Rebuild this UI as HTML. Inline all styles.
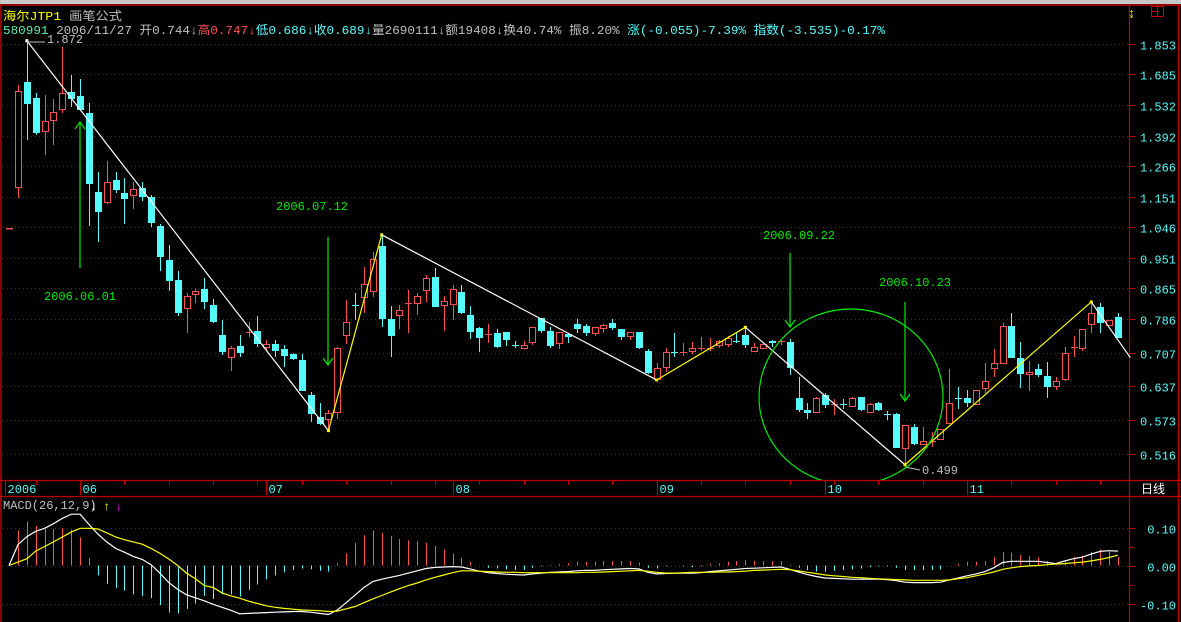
<!DOCTYPE html>
<html><head><meta charset="utf-8"><style>
html,body{margin:0;padding:0;background:#000;width:1181px;height:622px;overflow:hidden}
svg{display:block}
text{font-family:"Liberation Mono","Noto Sans CJK SC",monospace;font-size:12px}
</style></head><body>
<svg id="chart" width="1181" height="622" viewBox="0 0 1181 622" xmlns="http://www.w3.org/2000/svg">
<rect x="0" y="0" width="1181" height="622" fill="#000"/>
<rect x="0" y="0" width="1181" height="4" fill="#c8c8c8"/>
<line x1="0" y1="5" x2="1181" y2="5" stroke="#c00000" stroke-width="1.5"/>
<line x1="1" y1="5" x2="1" y2="622" stroke="#c00000" stroke-width="1.5"/>
<line x1="1129.5" y1="5" x2="1129.5" y2="622" stroke="#c00000" stroke-width="1.2"/>
<line x1="1178.5" y1="5" x2="1178.5" y2="622" stroke="#c00000" stroke-width="1.5"/>
<line x1="0" y1="480.5" x2="1181" y2="480.5" stroke="#c00000" stroke-width="1.2"/>
<line x1="0" y1="496.5" x2="1181" y2="496.5" stroke="#c00000" stroke-width="1.2"/>
<g><text x="1128" y="17" fill="#ffff00" font-size="13" font-weight="bold">↨</text></g>
<g><rect x="1151.5" y="6.5" width="12" height="10" fill="none" stroke="#d00000"/><line x1="1157.5" y1="6.5" x2="1157.5" y2="16.5" stroke="#d00000"/><line x1="1151.5" y1="11.5" x2="1157.5" y2="11.5" stroke="#d00000"/></g>
<text x="3" y="20" font-size="13" textLength="119" lengthAdjust="spacingAndGlyphs"><tspan fill="#ffff00">海尔JTP1</tspan><tspan fill="#c0c0c0"> 画笔公式</tspan></text>
<text x="3" y="34" textLength="882" lengthAdjust="spacingAndGlyphs"><tspan fill="#5cf0b0">580991</tspan><tspan fill="#c0c0c0"> 2006/11/27 开0.744↓</tspan><tspan fill="#ff5050">高0.747↓</tspan><tspan fill="#54fcfc">低0.686↓收0.689↓</tspan><tspan fill="#c0c0c0">量2690111↓额19408↓换40.74% 振8.20% </tspan><tspan fill="#54fcfc">涨(-0.055)-7.39% 指数(-3.535)-0.17%</tspan></text>
<g id="grid"></g><g id="candles"></g><g id="zig"></g><g id="macd"></g><g id="axes"></g>
<rect x="6" y="228" width="7" height="1.5" fill="#ff5050"/>
<text x="47" y="43" fill="#c0c0c0">1.872</text>
<line x1="27" y1="42" x2="45" y2="42" stroke="#c0c0c0"/>
<text x="922" y="474" fill="#c0c0c0">0.499</text>
<line x1="905" y1="467" x2="920" y2="470" stroke="#c0c0c0"/>
<g fill="none" stroke="#00ee00" stroke-width="1.2">
<line x1="80" y1="122" x2="80" y2="268"/><polyline points="75,129 80,122 85,129"/>
<line x1="328" y1="237" x2="328" y2="365"/><polyline points="323,358 328,365 333,358"/>
<line x1="790" y1="253" x2="790" y2="327"/><polyline points="785,320 790,327 795,320"/>
<line x1="905" y1="302" x2="905" y2="401"/><polyline points="900,394 905,401 910,394"/>
<clipPath id="pc"><rect x="0" y="6" width="1129" height="474"/></clipPath>
<ellipse cx="851" cy="397" rx="92" ry="88" clip-path="url(#pc)"/>
</g>
<text x="44" y="300" fill="#00ee00">2006.06.01</text>
<text x="276" y="210" fill="#00ee00">2006.07.12</text>
<text x="763" y="239" fill="#00ee00">2006.09.22</text>
<text x="879" y="286" fill="#00ee00">2006.10.23</text>
<text x="3" y="509" fill="#c0c0c0" font-size="11">MACD(26,12,9)</text>
<text x="90" y="510" fill="#ffffff" font-size="11">↓</text>
<text x="103" y="510" fill="#ffff00" font-size="11">↑</text>
<text x="115" y="510" fill="#ff00ff" font-size="11">↓</text>
<text x="1141" y="493" fill="#ffffff">日线</text>
</svg>
<script>
const opens=[1.187,1.646,1.566,1.413,1.462,1.513,1.596,1.576,1.494,1.168,1.132,1.213,1.164,1.157,1.183,1.150,1.050,0.945,0.888,0.814,0.850,0.863,0.821,0.748,0.698,0.722,0.756,0.757,0.720,0.727,0.716,0.705,0.692,0.620,0.580,0.576,0.589,0.748,0.821,0.842,0.858,0.987,0.786,0.796,0.826,0.826,0.861,0.897,0.821,0.824,0.855,0.796,0.764,0.750,0.752,0.755,0.725,0.718,0.731,0.788,0.757,0.729,0.750,0.774,0.769,0.752,0.764,0.776,0.762,0.745,0.755,0.711,0.652,0.677,0.709,0.709,0.711,0.718,0.718,0.725,0.727,0.734,0.748,0.711,0.718,0.734,0.734,0.731,0.615,0.592,0.589,0.620,0.603,0.603,0.599,0.617,0.589,0.605,0.585,0.585,0.525,0.562,0.533,0.538,0.540,0.569,0.615,0.615,0.603,0.634,0.675,0.685,0.769,0.696,0.662,0.673,0.658,0.638,0.652,0.720,0.718,0.774,0.816,0.771,0.791];
const highs=[1.631,1.872,1.591,1.581,1.561,1.836,1.683,1.662,1.542,1.244,1.287,1.244,1.221,1.206,1.206,1.157,1.057,0.990,0.913,0.853,0.863,0.894,0.837,0.784,0.722,0.748,0.779,0.793,0.736,0.736,0.725,0.707,0.705,0.626,0.605,0.592,0.720,0.834,0.853,0.925,0.969,1.022,0.818,0.821,0.861,0.853,0.902,0.922,0.845,0.874,0.874,0.818,0.767,0.774,0.762,0.755,0.734,0.734,0.767,0.788,0.767,0.755,0.750,0.786,0.774,0.767,0.774,0.786,0.762,0.755,0.755,0.716,0.685,0.718,0.752,0.729,0.731,0.743,0.741,0.736,0.745,0.752,0.766,0.729,0.729,0.736,0.736,0.738,0.656,0.605,0.617,0.624,0.613,0.613,0.617,0.617,0.605,0.607,0.590,0.587,0.564,0.567,0.562,0.553,0.558,0.673,0.636,0.630,0.630,0.685,0.716,0.776,0.801,0.731,0.690,0.683,0.687,0.656,0.720,0.745,0.762,0.829,0.826,0.784,0.801];
const lows=[1.147,1.374,1.396,1.311,1.353,1.494,1.522,1.508,1.050,0.999,1.125,1.164,1.057,1.108,1.136,1.047,0.913,0.858,0.793,0.752,0.826,0.811,0.776,0.703,0.669,0.698,0.743,0.720,0.711,0.698,0.677,0.692,0.628,0.571,0.564,0.555,0.576,0.727,0.784,0.801,0.842,0.767,0.698,0.762,0.752,0.796,0.829,0.816,0.757,0.784,0.798,0.738,0.709,0.729,0.718,0.722,0.718,0.718,0.725,0.752,0.718,0.716,0.729,0.752,0.745,0.745,0.752,0.760,0.736,0.736,0.716,0.662,0.650,0.666,0.698,0.700,0.705,0.711,0.711,0.718,0.720,0.729,0.718,0.711,0.718,0.720,0.725,0.660,0.589,0.576,0.587,0.596,0.583,0.594,0.598,0.590,0.589,0.590,0.573,0.525,0.499,0.531,0.533,0.528,0.540,0.566,0.594,0.598,0.603,0.624,0.656,0.685,0.696,0.634,0.628,0.656,0.615,0.630,0.648,0.698,0.711,0.752,0.752,0.771,0.741];
const closes=[1.601,1.537,1.404,1.458,1.499,1.591,1.561,1.508,1.198,1.098,1.206,1.175,1.143,1.179,1.150,1.060,0.954,0.885,0.801,0.845,0.858,0.829,0.779,0.709,0.718,0.707,0.756,0.727,0.727,0.711,0.700,0.694,0.628,0.585,0.567,0.587,0.718,0.779,0.820,0.877,0.948,0.786,0.745,0.809,0.826,0.845,0.894,0.816,0.832,0.863,0.801,0.755,0.741,0.750,0.720,0.736,0.724,0.725,0.767,0.757,0.722,0.755,0.743,0.762,0.752,0.767,0.771,0.764,0.743,0.755,0.718,0.664,0.675,0.709,0.707,0.709,0.718,0.718,0.718,0.734,0.741,0.733,0.725,0.720,0.727,0.729,0.734,0.675,0.591,0.587,0.615,0.601,0.603,0.602,0.615,0.592,0.603,0.592,0.584,0.526,0.564,0.533,0.538,0.538,0.557,0.605,0.614,0.605,0.630,0.648,0.685,0.769,0.696,0.662,0.666,0.660,0.636,0.648,0.707,0.720,0.762,0.801,0.776,0.784,0.741];
const pivotIdx=[1,35,41,72,82,100,121,125.4];
const pivotPrice=[1.872,0.555,1.022,0.650,0.766,0.499,0.829,0.697];
const priceTicks=[1.853,1.685,1.532,1.392,1.266,1.151,1.046,0.951,0.865,0.786,0.707,0.637,0.573,0.516];
const monthLabels=["2006","06","07","08","09","10","11"];
const monthIdx=[-1.5,7,28,49,72,91,107];
const dif=[0.055,0.076,0.09,0.098,0.11,0.124,0.135,0.135,0.108,0.083,0.062,0.045,0.035,0.024,0.016,0.002,-0.02,-0.045,-0.063,-0.077,-0.085,-0.093,-0.102,-0.11,-0.118,-0.127,-0.126,-0.125,-0.124,-0.123,-0.122,-0.121,-0.121,-0.123,-0.126,-0.129,-0.117,-0.098,-0.078,-0.058,-0.042,-0.036,-0.031,-0.026,-0.02,-0.014,-0.008,-0.005,-0.004,-0.003,-0.004,-0.009,-0.015,-0.019,-0.021,-0.023,-0.024,-0.025,-0.022,-0.02,-0.018,-0.017,-0.016,-0.014,-0.013,-0.013,-0.011,-0.01,-0.009,-0.008,-0.009,-0.018,-0.022,-0.021,-0.02,-0.02,-0.02,-0.019,-0.016,-0.014,-0.012,-0.01,-0.008,-0.007,-0.006,-0.005,-0.004,-0.01,-0.017,-0.024,-0.029,-0.033,-0.034,-0.035,-0.036,-0.036,-0.036,-0.036,-0.037,-0.04,-0.044,-0.045,-0.045,-0.045,-0.044,-0.038,-0.033,-0.027,-0.022,-0.016,-0.006,0.008,0.011,0.011,0.011,0.011,0.008,0.005,0.012,0.018,0.022,0.03,0.037,0.039,0.038];
const dea=[0.009,0.018,0.038,0.05,0.062,0.075,0.088,0.098,0.098,0.096,0.086,0.075,0.068,0.062,0.056,0.045,0.032,0.017,0.0,-0.02,-0.035,-0.053,-0.058,-0.072,-0.08,-0.086,-0.094,-0.1,-0.106,-0.11,-0.113,-0.115,-0.117,-0.118,-0.119,-0.121,-0.12,-0.114,-0.108,-0.098,-0.088,-0.079,-0.07,-0.061,-0.053,-0.046,-0.038,-0.031,-0.025,-0.019,-0.014,-0.014,-0.015,-0.016,-0.017,-0.018,-0.018,-0.019,-0.019,-0.019,-0.019,-0.019,-0.019,-0.019,-0.018,-0.018,-0.017,-0.016,-0.015,-0.014,-0.013,-0.015,-0.018,-0.02,-0.02,-0.019,-0.018,-0.018,-0.018,-0.017,-0.017,-0.016,-0.015,-0.013,-0.012,-0.011,-0.01,-0.011,-0.014,-0.018,-0.021,-0.025,-0.027,-0.029,-0.031,-0.032,-0.034,-0.035,-0.036,-0.037,-0.038,-0.039,-0.039,-0.039,-0.039,-0.038,-0.035,-0.032,-0.027,-0.022,-0.017,-0.01,-0.006,-0.003,-0.001,0.0,0.002,0.004,0.005,0.007,0.009,0.012,0.016,0.021,0.027];
const macdTicks=[0.10,0.00,-0.10];
const macdTickLabels=["0.10","0.00","-0.10"];

const NS="http://www.w3.org/2000/svg";
const L0=Math.log(1.853);
function xC(i){return 18+i*8.87;}
function yP(p){return 44+(L0-Math.log(p))*320.7;}
function yM(v){return 565.5-v*380;}
function mk(tag,attrs,parent){const e=document.createElementNS(NS,tag);for(const k in attrs)e.setAttribute(k,attrs[k]);parent.appendChild(e);return e;}
const grid=document.getElementById('grid'),cg=document.getElementById('candles'),zg=document.getElementById('zig'),mg=document.getElementById('macd'),ag=document.getElementById('axes');

priceTicks.forEach((t,k)=>{
  const y=Math.round(yP(t))+0.5;
  const g=mk('line',{x1:3,y1:y,x2:1128,y2:y,stroke:'#b00000','stroke-dasharray':'1,3'},grid);
  
  
  mk('line',{x1:1129,y1:y,x2:1135,y2:y,stroke:'#c00000'},ag);
  const tx=mk('text',{x:1176,y:y+5,fill:'#54fcfc','text-anchor':'end','font-size':'13'},ag);
  tx.textContent=t.toFixed(3);
  
  
});
macdTicks.forEach((t,k)=>{
  const y=Math.round(yM(t))+0.5;
  const g=mk('line',{x1:3,y1:y,x2:1128,y2:y,stroke:'#b00000','stroke-dasharray':'1,3'},grid);
  
  
  mk('line',{x1:1129,y1:y,x2:1135,y2:y,stroke:'#c00000'},ag);
  const tx=mk('text',{x:1176,y:y+5,fill:'#54fcfc','text-anchor':'end','font-size':'13'},ag);
  tx.textContent=macdTickLabels[k];
  
  
});
[0.05,-0.05].forEach(t=>{const y=Math.round(yM(t))+0.5;mk('line',{x1:1129,y1:y,x2:1133,y2:y,stroke:'#c00000'},ag);});
for(let i=2;i<125;i+=5){const x=Math.round(xC(i))+0.5;mk('line',{x1:x,y1:481,x2:x,y2:485,stroke:'#c00000'},ag);}
monthLabels.forEach((m,k)=>{
  const x=Math.round(xC(monthIdx[k]))+0.5;
  mk('line',{x1:x,y1:481,x2:x,y2:495,stroke:'#c00000'},ag);
  const tx=mk('text',{x:x+2,y:493,fill:'#54fcfc','font-size':'13'},ag);
  tx.textContent=m;
  
  
});

for(let i=0;i<opens.length;i++){
  const o=opens[i],h=highs[i],l=lows[i],c=closes[i];
  const x=Math.round(xC(i))+0.5;
  const up=c>=o;
  const col=up?'#ff5050':'#54fcfc';
  const top=Math.round(yP(Math.max(o,c))),bot=Math.round(yP(Math.min(o,c)));
  const yh=Math.round(yP(h)),yl=Math.round(yP(l));
  const g=mk('g',{},cg);
  
  
  if(up){
    mk('line',{x1:x,y1:yh,x2:x,y2:top,stroke:col},g);
    mk('line',{x1:x,y1:bot,x2:x,y2:yl,stroke:col},g);
    if(bot-top<1) mk('line',{x1:x-3.5,y1:top+0.5,x2:x+3.5,y2:top+0.5,stroke:col},g);
    else mk('rect',{x:x-3,y:top+0.5,width:6,height:bot-top,fill:'#000',stroke:col},g);
  }else{
    mk('line',{x1:x,y1:yh,x2:x,y2:yl,stroke:col},g);
    mk('rect',{x:x-3.5,y:top,width:7,height:Math.max(1,bot-top),fill:col},g);
  }
}
let prev=null;
pivotIdx.forEach((pi,k)=>{
  const pt=[xC(pi),yP(pivotPrice[k])];
  if(prev){
    const ln=mk('line',{x1:prev[0],y1:prev[1],x2:pt[0],y2:pt[1],stroke:pt[1]<prev[1]?'#ffff00':'#ffffff','stroke-width':1.2},zg);
    
    
  }
  if(k<pivotIdx.length-1){
    const s=mk('rect',{x:pt[0]-1.5,y:pt[1]-1.5,width:3,height:3,fill:k===0?'#ffffff':'#ffff00'},zg);
    
    
  }
  prev=pt;
});
const y0=yM(0);
for(let i=0;i<dif.length;i++){
  const v=2*(dif[i]-dea[i]);
  const x=Math.round(xC(i))+0.5;
  const b=mk('line',{x1:x,y1:y0,x2:x,y2:yM(v),stroke:v>=0?'#ff5050':'#54fcfc','stroke-width':1},mg);
  
  
}
function poly(arr,col,name){
  const pts=[[9,y0]].concat(arr.map((v,i)=>[xC(i),yM(v)])).map(p=>p[0].toFixed(1)+','+p[1].toFixed(1)).join(' ');
  const p=mk('polyline',{points:pts,fill:'none',stroke:col,'stroke-width':1.2},mg);
  
  
}
poly(dif,'#ffffff','dif-line');
poly(dea,'#ffff00','dea-line');
</script>
</body></html>
